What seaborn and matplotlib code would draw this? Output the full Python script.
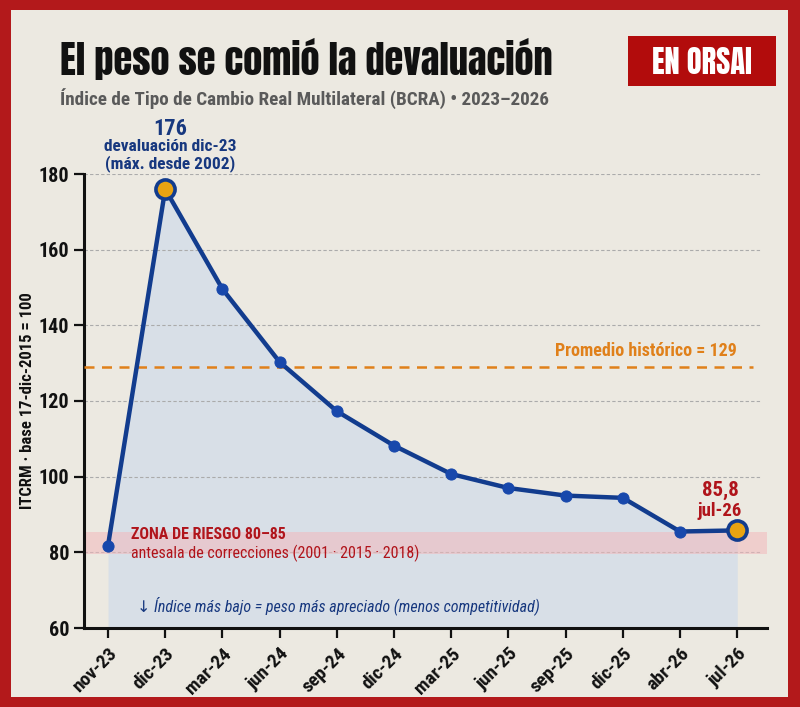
import matplotlib
matplotlib.use("Agg")
import matplotlib.pyplot as plt
import seaborn as sns
import pandas as pd

# -----------------------------
# Data
# -----------------------------
months = ["nov-23", "dic-23", "mar-24", "jun-24", "sep-24", "dic-24",
          "mar-25", "jun-25", "sep-25", "dic-25", "abr-26", "jul-26"]
itcrm = [81.8, 176.0, 149.6, 130.3, 117.3, 108.2,
         100.7, 97.0, 95.0, 94.4, 85.5, 85.8]
highlight_months = ["dic-23", "jul-26"]
historic_avg = 129
risk_zone = [80, 85]
y_ticks = [60, 80, 100, 120, 140, 160, 180]

df = pd.DataFrame({"month": months, "itcrm": itcrm})
df["pos"] = range(len(df))
hl = df[df["month"].isin(highlight_months)]

# -----------------------------
# Style
# -----------------------------
sns.set_theme(style="white")
plt.rcParams["font.family"] = ["Roboto Condensed", "Liberation Sans Narrow", "DejaVu Sans"]
plt.rcParams["font.weight"] = "bold"
heavy = ["Anton", "Oswald", "Liberation Sans Narrow", "DejaVu Sans"]

paper = "#ECE9E1"
frame_red = "#B3191B"
navy = "#17387F"
line_blue = "#123C8E"
dot_blue = "#1848AC"
orange = "#E0801A"
gold = "#E9A312"
dark_red = "#B0141B"
fill_blue = "#D8DFE7"

fig = plt.figure(figsize=(8.0, 7.07), dpi=100)
fig.patch.set_facecolor(frame_red)

# cream paper panel inside the red frame
panel = fig.add_axes([11 / 800, 10 / 707, 777 / 800, 687 / 707])
panel.set_facecolor(paper)
panel.set_xticks([])
panel.set_yticks([])
for s in panel.spines.values():
    s.set_visible(False)
panel.set_zorder(0)

ax = fig.add_axes([84 / 800, 1 - 628 / 707, (767 - 84) / 800, (628 - 174) / 707])
ax.set_facecolor("none")
ax.set_zorder(1)

# -----------------------------
# Plot
# -----------------------------
ax.fill_between(df["pos"], df["itcrm"], 60, color=fill_blue, zorder=1, lw=0)
ax.axhspan(risk_zone[0] - 0.5, risk_zone[1] + 0.5, xmin=0, xmax=1,
           color="#F2B8BC", alpha=0.55, zorder=2, lw=0)

for yv in y_ticks[1:]:
    ax.axhline(yv, color="#ABABAB", lw=0.8, ls=(0, (3, 2)), xmax=0.99, zorder=1.5)

ax.axhline(historic_avg, color=orange, lw=1.8, ls=(0, (4, 3)), xmax=0.98, zorder=3)

sns.lineplot(data=df, x="pos", y="itcrm", ax=ax, color=line_blue, lw=3.2,
             marker="o", markersize=8, markerfacecolor=dot_blue,
             markeredgecolor=dot_blue, zorder=4)
sns.scatterplot(data=hl, x="pos", y="itcrm", ax=ax, s=190, color=gold,
                edgecolor=line_blue, linewidth=2.6, zorder=5, clip_on=False)

# -----------------------------
# Axes
# -----------------------------
ax.set_xlim(-0.42, 11.52)
ax.set_ylim(60, 180)
ax.set_yticks(y_ticks)
ax.set_yticklabels([str(v) for v in y_ticks], fontsize=14.5, fontweight="bold")
ax.set_xticks(df["pos"])
ax.set_xticklabels(df["month"], rotation=45, ha="right", rotation_mode="anchor",
                   fontsize=14, fontweight="bold")
ax.tick_params(axis="both", length=7, width=1.6, color="#111111", direction="out",
               bottom=True, left=True, labelcolor="#111111")
ax.tick_params(axis="x", pad=5)
for side in ["top", "right"]:
    ax.spines[side].set_visible(False)
for side in ["left", "bottom"]:
    ax.spines[side].set_color("#111111")
    ax.spines[side].set_linewidth(2.2)
ax.set_xlabel("")
ax.set_ylabel("ITCRM · base 17-dic-2015 = 100", fontsize=12, fontweight="bold",
              color="#111111")
ax.yaxis.set_label_coords(-0.072, 0.5)

# -----------------------------
# Annotations
# -----------------------------
ax.text(1.08, 191.8, "176", ha="center", va="center", fontsize=16, color=navy,
        fontweight="bold", clip_on=False)
ax.text(1.08, 187.2, "devaluación dic-23", ha="center", va="center", fontsize=12.5,
        color=navy, fontweight="bold", clip_on=False)
ax.text(1.08, 182.7, "(máx. desde 2002)", ha="center", va="center", fontsize=12.5,
        color=navy, fontweight="bold", clip_on=False)

ax.text(11.0, 133.2, "Promedio histórico = 129", ha="right", va="center",
        fontsize=13, color=orange, fontweight="bold")

ax.text(0.4, 84.6, "ZONA DE RIESGO 80–85", ha="left", va="center",
        fontsize=11.5, color=dark_red, fontweight="bold")
ax.text(0.4, 79.8, "antesala de correcciones (2001 · 2015 · 2018)", ha="left",
        va="center", fontsize=11.5, color=dark_red, fontweight="normal")

ax.text(10.7, 96.3, "85,8", ha="center", va="center", fontsize=15,
        color=dark_red, fontweight="bold")
ax.text(10.7, 90.9, "jul-26", ha="center", va="center", fontsize=13.5,
        color=dark_red, fontweight="bold")

ax.text(0.5, 65.8, "↓ Índice más bajo = peso más apreciado (menos competitividad)",
        ha="left", va="center", fontsize=11.5, color=navy, style="italic",
        fontweight="normal")

# -----------------------------
# Header
# -----------------------------
fig.text(60 / 800, 1 - 75 / 707, "El peso se comió la devaluación",
         ha="left", va="baseline", fontsize=27.5, fontweight="bold", color="#111111",
         family=heavy)
fig.text(60 / 800, 1 - 99 / 707,
         "Índice de Tipo de Cambio Real Multilateral (BCRA) • 2023–2026",
         ha="left", va="center", fontsize=13.8, fontweight="bold", color="#5A5A5A")

badge = fig.add_axes([628 / 800, 1 - 86 / 707, 148 / 800, 50 / 707])
badge.set_facecolor("#B20C0C")
badge.set_xticks([])
badge.set_yticks([])
for s in badge.spines.values():
    s.set_visible(False)
badge.text(0.5, 0.47, "EN ORSAI", ha="center", va="center", fontsize=22,
           fontweight="bold", color="white", transform=badge.transAxes,
           family=heavy)

fig.savefig("out.png", dpi=100, facecolor=fig.get_facecolor())
